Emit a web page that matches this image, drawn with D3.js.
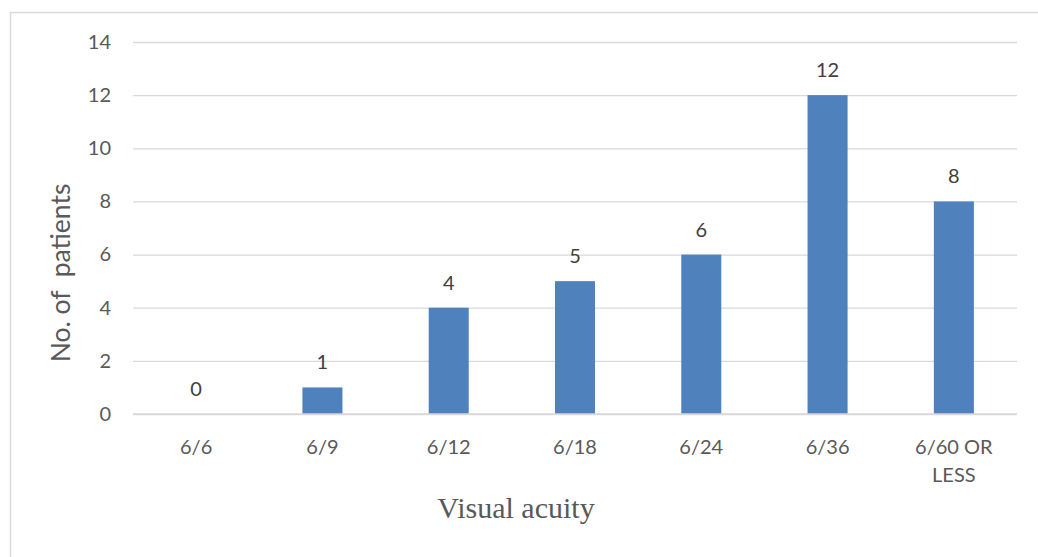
<!DOCTYPE html>
<html>
<head>
<meta charset="utf-8">
<script src="https://cdn.jsdelivr.net/npm/d3@7"></script>
<style>
  html, body { margin: 0; padding: 0; background: #fff; }
  svg { display: block; }
</style>
</head>
<body>
<svg id="chart" width="1038" height="557"></svg>
<script>
// Patients per visual acuity group
const categories = ["6/6", "6/9", "6/12", "6/18", "6/24", "6/36", "6/60 OR LESS"];
const patients = [0, 1, 4, 5, 6, 12, 8];
const yTicks = [0, 2, 4, 6, 8, 10, 12, 14];
const xTitle = "Visual acuity";
const yTitle = "No. of  patients";

const svg = d3.select("#chart");
const W = 1038, H = 557;
const plot = { left: 133, right: 1017, top: 42, bottom: 414 };
const sansFont = "Lato, 'Open Sans', sans-serif";

// Chart frame
svg.append("rect")
  .attr("x", 10.5).attr("y", 12.5)
  .attr("width", W + 10).attr("height", H + 10)
  .attr("fill", "#fff").attr("stroke", "#d9d9d9").attr("stroke-width", 1.5);

const x = d3.scaleBand()
  .domain(categories)
  .range([plot.left, plot.right])
  .paddingInner(0.683)
  .paddingOuter(0.3415);

const y = d3.scaleLinear().domain([0, 14]).range([plot.bottom, plot.top]);

// Horizontal gridlines and y tick labels
const yAxis = d3.axisLeft(y)
  .tickValues(yTicks)
  .tickSize(-(plot.right - plot.left))
  .tickPadding(22)
  .tickFormat(d3.format("d"));

const gy = svg.append("g")
  .attr("transform", `translate(${plot.left},0)`)
  .call(yAxis);
gy.select(".domain").remove();
gy.selectAll(".tick line").attr("stroke", "#d9d9d9").attr("stroke-width", 1.3);
gy.selectAll(".tick text")
  .attr("fill", "#595959")
  .attr("font-family", sansFont)
  .attr("font-size", 20);

// Bars
svg.append("g").selectAll("rect")
  .data(categories.map((c, i) => ({ c, v: patients[i] })))
  .join("rect")
  .attr("x", d => x(d.c))
  .attr("width", x.bandwidth())
  .attr("y", d => y(d.v))
  .attr("height", d => y(0) - y(d.v))
  .attr("fill", "#4f81bd");

// Value labels
svg.append("g").selectAll("text")
  .data(categories.map((c, i) => ({ c, v: patients[i] })))
  .join("text")
  .attr("x", d => x(d.c) + x.bandwidth() / 2)
  .attr("y", d => y(d.v) - 18)
  .attr("text-anchor", "middle")
  .attr("fill", "#404040")
  .attr("font-family", sansFont)
  .attr("font-size", 20)
  .text(d => d.v);

// Baseline drawn over the bars
svg.append("line")
  .attr("x1", plot.left).attr("x2", plot.right)
  .attr("y1", y(0)).attr("y2", y(0))
  .attr("stroke", "#d9d9d9").attr("stroke-width", 1.5);

// Category labels, wrapped on the space before "OR LESS"
const xl = svg.append("g").selectAll("text")
  .data(categories)
  .join("text")
  .attr("x", d => x(d) + x.bandwidth() / 2)
  .attr("y", 454)
  .attr("text-anchor", "middle")
  .attr("fill", "#595959")
  .attr("font-family", sansFont)
  .attr("font-size", 20);
xl.each(function (d) {
  const t = d3.select(this);
  const lines = d === "6/60 OR LESS" ? ["6/60 OR", "LESS"] : [d];
  lines.forEach((ln, i) => {
    t.append("tspan")
      .attr("x", x(d) + x.bandwidth() / 2)
      .attr("dy", i === 0 ? 0 : 28)
      .text(ln);
  });
});

// Axis titles
svg.append("text")
  .attr("x", 516)
  .attr("y", 518)
  .attr("text-anchor", "middle")
  .attr("fill", "#595959")
  .attr("font-family", "'Liberation Serif', 'Times New Roman', serif")
  .attr("font-size", 30)
  .text(xTitle);

svg.append("text")
  .attr("transform", `translate(70,273) rotate(-90)`)
  .attr("text-anchor", "middle")
  .attr("fill", "#595959")
  .attr("font-family", sansFont)
  .attr("font-size", 26.5)
  .attr("xml:space", "preserve")
  .style("white-space", "pre")
  .text(yTitle);
</script>
</body>
</html>
